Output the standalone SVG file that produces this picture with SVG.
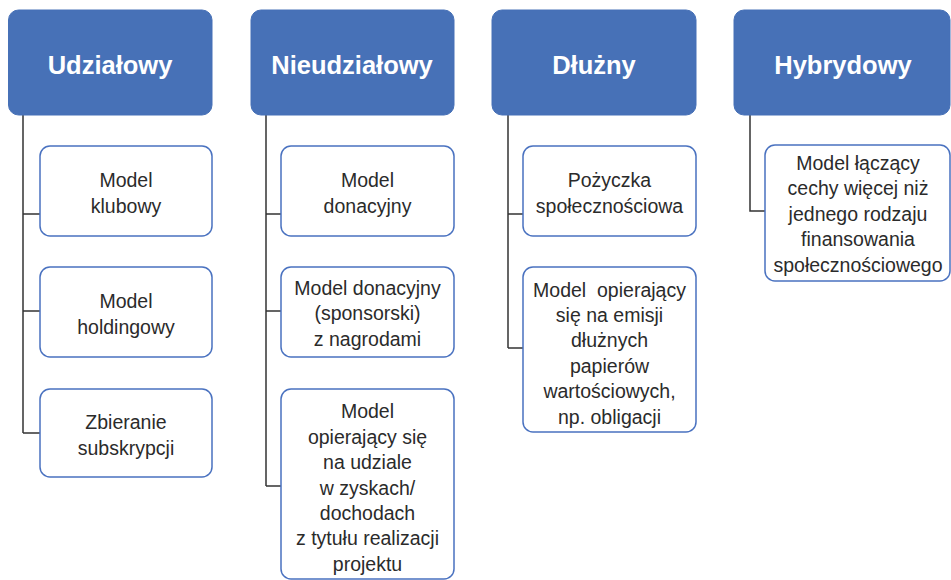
<svg xmlns="http://www.w3.org/2000/svg" width="951" height="580" viewBox="0 0 951 580">
<style>
.hd{fill:#4771B7;stroke:#4771B7;stroke-width:1}
.ht{fill:#ffffff;font-family:"Liberation Sans",Arial,sans-serif;font-weight:bold;font-size:25.5px;text-anchor:middle}
.cb{fill:#ffffff;stroke:#4A72C0;stroke-width:1.5}
.ct{fill:#2b2b2b;font-family:"Liberation Sans",Arial,sans-serif;font-size:19.5px;text-anchor:middle}
.cn{fill:none;stroke:#333333;stroke-width:1.5}
</style>
<rect width="951" height="580" fill="#ffffff"/>
<g id="connectors">
<path class="cn" d="M23 115 V433 M23 214 H40 M23 311 H40 M23 433 H40"/>
<path class="cn" d="M266 115 V486 M266 214 H281 M266 311 H281 M266 486 H281"/>
<path class="cn" d="M508 115 V348 M508 214 H523 M508 348 H523"/>
<path class="cn" d="M750 115 V211 H765"/>
</g>
<g id="udzialowy">
<rect class="hd" x="8.5" y="10" width="203.5" height="105" rx="10"/>
<text class="ht" x="110" y="74">Udziałowy</text>
</g>
<g id="nieudzialowy">
<rect class="hd" x="251" y="10" width="203" height="105" rx="10"/>
<text class="ht" x="352" y="74">Nieudziałowy</text>
</g>
<g id="dluzny">
<rect class="hd" x="492" y="10" width="204" height="105" rx="10"/>
<text class="ht" x="594" y="74">Dłużny</text>
</g>
<g id="hybrydowy">
<rect class="hd" x="734" y="10" width="216" height="105" rx="10"/>
<text class="ht" x="843" y="74">Hybrydowy</text>
</g>
<g id="model-klubowy">
<rect class="cb" x="40" y="146" width="172" height="90" rx="10"/>
<text class="ct" x="126" y="187">Model</text>
<text class="ct" x="126" y="213">klubowy</text>
</g>
<g id="model-holdingowy">
<rect class="cb" x="40" y="267" width="172" height="90" rx="10"/>
<text class="ct" x="126" y="308">Model</text>
<text class="ct" x="126" y="334">holdingowy</text>
</g>
<g id="zbieranie-subskrypcji">
<rect class="cb" x="40" y="389" width="172" height="88" rx="10"/>
<text class="ct" x="126" y="429">Zbieranie</text>
<text class="ct" x="126" y="455">subskrypcji</text>
</g>
<g id="model-donacyjny">
<rect class="cb" x="281" y="146" width="173" height="90" rx="10"/>
<text class="ct" x="367.5" y="187">Model</text>
<text class="ct" x="367.5" y="213">donacyjny</text>
</g>
<g id="model-donacyjny-nagrody">
<rect class="cb" x="281" y="267" width="173" height="90" rx="10"/>
<text class="ct" x="367.5" y="295">Model donacyjny</text>
<text class="ct" x="367.5" y="320">(sponsorski)</text>
<text class="ct" x="367.5" y="346">z nagrodami</text>
</g>
<g id="model-udzial-zyski">
<rect class="cb" x="281" y="389" width="173" height="190" rx="10"/>
<text class="ct" x="367.5" y="418">Model</text>
<text class="ct" x="367.5" y="444">opierający się</text>
<text class="ct" x="367.5" y="469">na udziale</text>
<text class="ct" x="367.5" y="495">w zyskach/</text>
<text class="ct" x="367.5" y="520">dochodach</text>
<text class="ct" x="367.5" y="545">z tytułu realizacji</text>
<text class="ct" x="367.5" y="571">projektu</text>
</g>
<g id="pozyczka">
<rect class="cb" x="523" y="146" width="173" height="90" rx="10"/>
<text class="ct" x="609.5" y="187">Pożyczka</text>
<text class="ct" x="609.5" y="213">społecznościowa</text>
</g>
<g id="model-obligacje">
<rect class="cb" x="523" y="267" width="173" height="165" rx="10"/>
<text class="ct" x="609.5" y="297" xml:space="preserve">Model  opierający</text>
<text class="ct" x="609.5" y="322">się na emisji</text>
<text class="ct" x="609.5" y="347">dłużnych</text>
<text class="ct" x="609.5" y="373">papierów</text>
<text class="ct" x="609.5" y="398">wartościowych,</text>
<text class="ct" x="609.5" y="424">np. obligacji</text>
</g>
<g id="model-hybrydowy">
<rect class="cb" x="765" y="145" width="185" height="136" rx="10"/>
<text class="ct" x="858" y="170">Model łączący</text>
<text class="ct" x="858" y="195">cechy więcej niż</text>
<text class="ct" x="858" y="221">jednego rodzaju</text>
<text class="ct" x="858" y="246">finansowania</text>
<text class="ct" x="858" y="272">społecznościowego</text>
</g>
</svg>
